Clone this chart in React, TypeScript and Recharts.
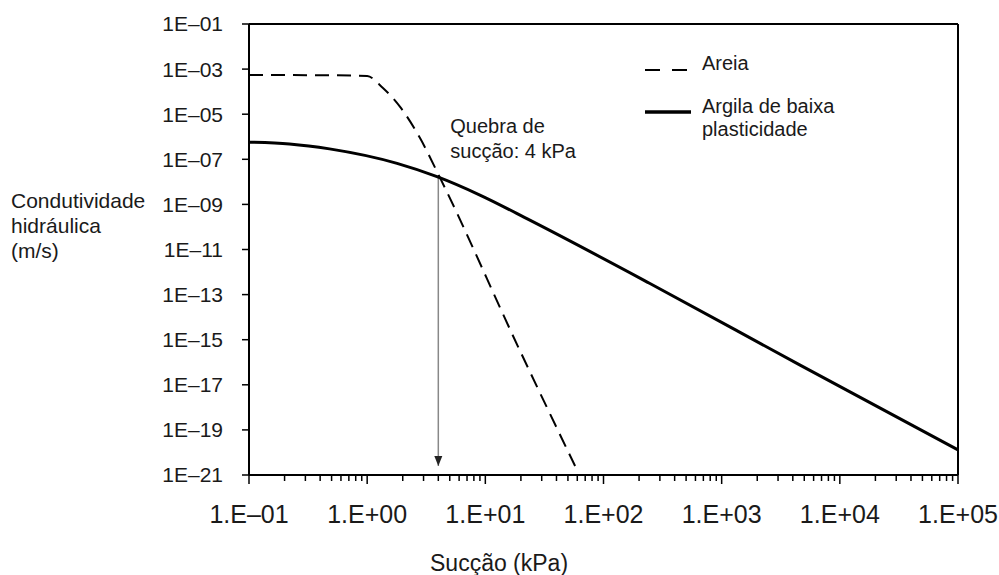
import React from 'react';
import {
  LineChart,
  Line,
  XAxis,
  YAxis,
  ReferenceLine,
  ReferenceDot,
} from 'recharts';

// suction (kPa) vs hydraulic conductivity (m/s)
const areia = [
  { s: 0.1, k: 5.5e-4 },
  { s: 0.5, k: 5.3e-4 },
  { s: 1, k: 4.9e-4 },
  { s: 1.36, k: 1.45e-4 },
  { s: 1.9, k: 2.1e-5 },
  { s: 2.8, k: 8.7e-7 },
  { s: 4.1, k: 1.66e-8 },
  { s: 19.5, k: 3.5e-16 },
  { s: 57.5, k: 2.5e-21 },
];

const argila = [
  { s: 0.1, k: 5.75e-7 },
  { s: 0.22, k: 4.8e-7 },
  { s: 0.48, k: 2.9e-7 },
  { s: 1.79, k: 6.6e-8 },
  { s: 3.9, k: 1.7e-8 },
  { s: 9, k: 2.6e-9 },
  { s: 23.8, k: 2.0e-10 },
  { s: 245, k: 3.2e-13 },
  { s: 4570, k: 7.6e-17 },
  { s: 100000, k: 1.3e-20 },
];

const suctionTicks = [0.1, 1, 10, 100, 1000, 10000, 100000];
const conductivityTicks = [
  1e-1, 1e-3, 1e-5, 1e-7, 1e-9, 1e-11, 1e-13, 1e-15, 1e-17, 1e-19, 1e-21,
];
const breakSuction = 4;
const breakK = 1.7e-8;
const arrowTipK = 2.5e-21;

const series = [
  { name: 'Areia', data: areia, dash: '14 8', legendDash: '15 12', width: 2 },
  { name: 'Argila de baixa plasticidade', data: argila, dash: undefined, legendDash: undefined, width: 3 },
];

const FONT = '"Liberation Sans", Arial, sans-serif';
const INK = '#1a1a1a';

// minor ticks 2..9 inside every decade of the suction axis
const allXTicks: number[] = [];
suctionTicks.slice(0, -1).forEach((t) => {
  for (let m = 1; m <= 9; m++) allXTicks.push(+(t * m).toPrecision(3));
});
allXTicks.push(100000);

const isMajor = (v: number) => suctionTicks.some((t) => Math.abs(t - v) / t < 1e-6);

const expStr = (v: number) => {
  const e = Math.round(Math.log10(v));
  const sign = e < 0 ? '\u2013' : '+';
  return sign + String(Math.abs(e)).padStart(2, '0');
};
const fmtY = (v: number) => '1E' + expStr(v);

const XTick = (props: any) => {
  const { x, y, payload } = props;
  const major = isMajor(payload.value);
  const axisY = y - 28;
  return (
    <g>
      <line x1={x} x2={x} y1={axisY} y2={axisY + (major ? 9 : 6)} stroke="#000" strokeWidth={1.5} />
      {major && (
        <text x={x} y={axisY + 48} textAnchor="middle" fontSize={25} fontFamily={FONT} fill={INK}>
          {'1.E' + expStr(payload.value)}
        </text>
      )}
    </g>
  );
};

const Arrowhead = (props: any) => {
  const { cx, cy } = props;
  return <polygon points={`${cx - 4},${cy - 10} ${cx + 4},${cy - 10} ${cx},${cy}`} fill="#222" />;
};

const BreakNote = (props: any) => {
  const { cx, cy } = props;
  return (
    <g fontFamily={FONT} fontSize={20} fill={INK}>
      <text x={cx + 12} y={cy}>Quebra de</text>
      <text x={cx + 12} y={cy + 25}>sucção: 4 kPa</text>
    </g>
  );
};

export default function App() {
  return (
    <div style={{ position: 'absolute', left: 0, top: 0, width: 999, height: 575, background: '#fff', fontFamily: FONT, color: INK }}>
      <LineChart width={999} height={575} margin={{ top: 24, right: 41, left: 0, bottom: 0 }}>
        <XAxis
          type="number"
          dataKey="s"
          scale="log"
          domain={[0.1, 100000]}
          ticks={allXTicks}
          interval={0}
          height={100}
          tickSize={0}
          tickMargin={28}
          tickLine={false}
          axisLine={{ stroke: '#000', strokeWidth: 2 }}
          tick={<XTick />}
        />
        <YAxis
          type="number"
          dataKey="k"
          scale="log"
          domain={[1e-21, 1e-1]}
          ticks={conductivityTicks}
          interval={0}
          tickFormatter={fmtY}
          width={249}
          tickSize={7}
          tickMargin={19}
          axisLine={{ stroke: '#000', strokeWidth: 2 }}
          tickLine={{ stroke: '#000', strokeWidth: 1.5 }}
          tick={{ fill: INK, fontSize: 21, fontFamily: FONT }}
        />
        <ReferenceLine y={1e-1} stroke="#000" strokeWidth={2} />
        <ReferenceLine x={100000} stroke="#000" strokeWidth={2} />
        <ReferenceLine
          segment={[
            { x: breakSuction, y: breakK },
            { x: breakSuction, y: arrowTipK },
          ]}
          stroke="#888"
          strokeWidth={1.5}
        />
        <ReferenceDot x={breakSuction} y={arrowTipK} shape={Arrowhead} />
        <ReferenceDot x={breakSuction} y={1.5e-6} shape={BreakNote} />
        {series.map((sr) => (
          <Line
            key={sr.name}
            data={sr.data}
            dataKey="k"
            name={sr.name}
            type="monotone"
            stroke="#000"
            strokeWidth={sr.width}
            strokeDasharray={sr.dash}
            dot={false}
            activeDot={false}
            isAnimationActive={false}
          />
        ))}
      </LineChart>

      {/* legend */}
      <div style={{ position: 'absolute', left: 645, top: 52, fontSize: 20, lineHeight: '23px' }}>
        {series.map((sr, i) => (
          <div key={sr.name} style={{ display: 'flex', alignItems: 'flex-start', marginBottom: i === 0 ? 20 : 0 }}>
            <svg width={46} height={23} style={{ flex: 'none' }}>
              <line x1={0} x2={46} y1={i === 0 ? 18 : 17} y2={i === 0 ? 18 : 17} stroke="#000" strokeWidth={i === 0 ? 2 : 3.5} strokeDasharray={sr.legendDash} />
            </svg>
            <div style={{ marginLeft: 11, width: 160 }}>{sr.name}</div>
          </div>
        ))}
      </div>

      {/* y axis title */}
      <div style={{ position: 'absolute', left: 11, top: 188, fontSize: 21, lineHeight: '25px' }}>
        Condutividade
        <br />
        hidráulica
        <br />
        (m/s)
      </div>

      {/* x axis title */}
      <div style={{ position: 'absolute', left: 430, top: 552, fontSize: 23, lineHeight: '23px' }}>Sucção (kPa)</div>
    </div>
  );
}
